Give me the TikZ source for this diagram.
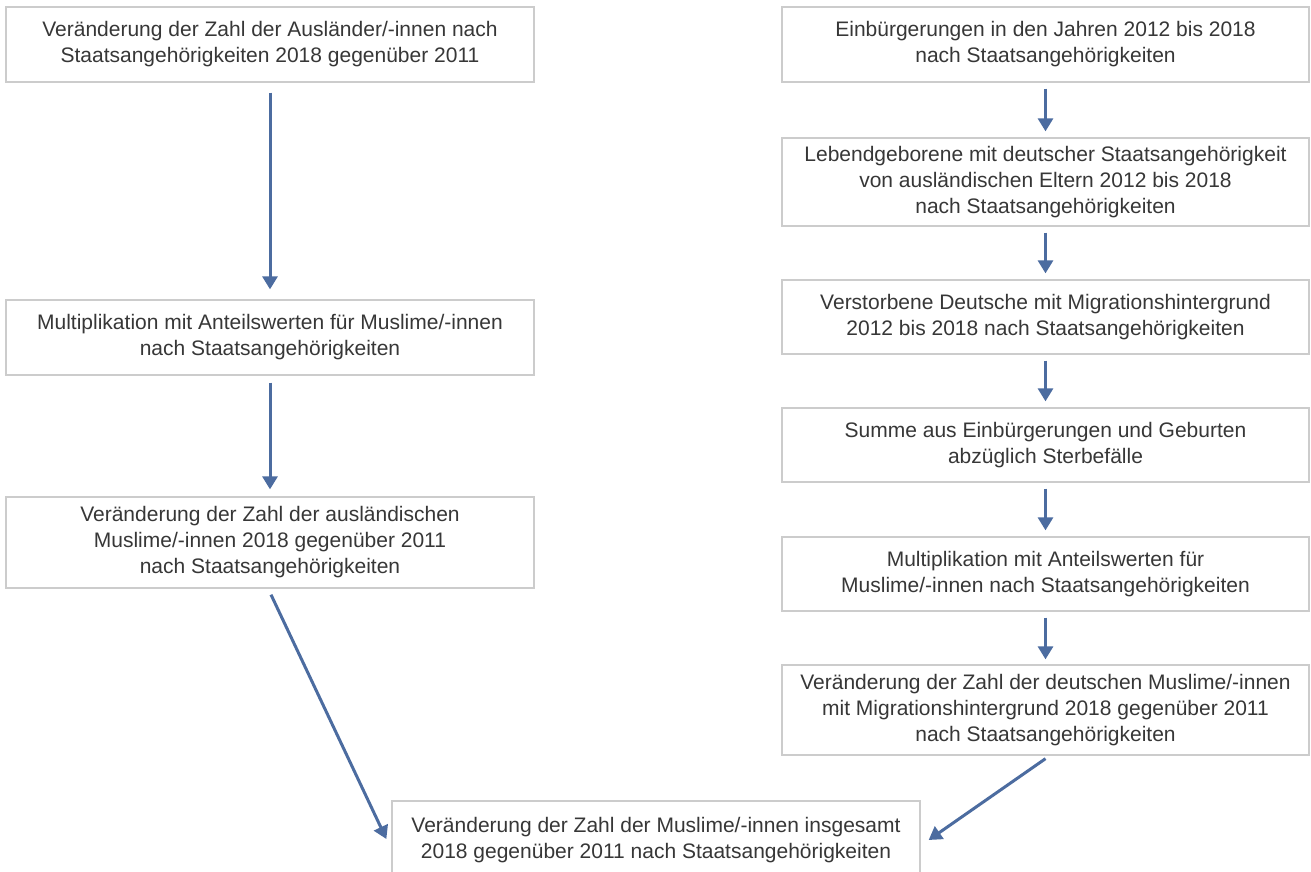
\documentclass[tikz,border=0pt]{standalone}
\usepackage{fontspec}
\setmainfont{Liberation Sans}
\usetikzlibrary{arrows.meta,calc}
\definecolor{boxline}{RGB}{204,204,204}
\definecolor{arrowblue}{RGB}{76,108,160}
\definecolor{txt}{RGB}{55,55,55}
\begin{document}
\begin{tikzpicture}[x=1pt,y=-1pt,
  box/.style={draw=boxline, line width=1.3pt, fill=white, inner sep=0pt, align=center,
    text=txt, font=\fontsize{21}{26}\selectfont},
  lbox/.style={box, minimum width=528pt},
  rbox/.style={box, minimum width=527pt},
  flow/.style={draw=arrowblue, line width=3pt, -{Triangle[width=15pt,length=13pt]}}]
\useasboundingbox[fill=white] (0,0) rectangle (1311,872);

% left column
\node[lbox, minimum height=75pt] (A) at (270,44.5)
  {Veränderung der Zahl der Ausländer/-innen nach\\Staatsangehörigkeiten 2018 gegenüber 2011};
\node[lbox, minimum height=75pt] (B) at (270,337.5)
  {Multiplikation mit Anteilswerten für Muslime/-innen\\nach Staatsangehörigkeiten};
\node[lbox, minimum height=91pt] (C) at (270,542.5)
  {Veränderung der Zahl der ausländischen\\Muslime/-innen 2018 gegenüber 2011\\nach Staatsangehörigkeiten};

% right column
\node[rbox, minimum height=75pt] (R1) at (1045.5,44.5)
  {Einbürgerungen in den Jahren 2012 bis 2018\\nach Staatsangehörigkeiten};
\node[rbox, minimum height=88pt] (R2) at (1045.5,182)
  {Lebendgeborene mit deutscher Staatsangehörigkeit\\von ausländischen Eltern 2012 bis 2018\\nach Staatsangehörigkeiten};
\node[rbox, minimum height=74pt] (R3) at (1045.5,317)
  {Verstorbene Deutsche mit Migrationshintergrund\\2012 bis 2018 nach Staatsangehörigkeiten};
\node[rbox, minimum height=74pt] (R4) at (1045.5,445)
  {Summe aus Einbürgerungen und Geburten\\abzüglich Sterbefälle};
\node[rbox, minimum height=74pt] (R5) at (1045.5,574)
  {Multiplikation mit Anteilswerten für\\Muslime/-innen nach Staatsangehörigkeiten};
\node[rbox, minimum height=90pt] (R6) at (1045.5,710)
  {Veränderung der Zahl der deutschen Muslime/-innen\\mit Migrationshintergrund 2018 gegenüber 2011\\nach Staatsangehörigkeiten};

% bottom
\node[lbox, minimum height=78pt] (D) at (656,840)
  {Veränderung der Zahl der Muslime/-innen insgesamt\\2018 gegenüber 2011 nach Staatsangehörigkeiten};

% connectors
\draw[flow] ($(A.south)+(0,10)$) -- ($(B.north)+(0,-10)$);
\draw[flow] ($(B.south)+(0,7)$) -- ($(C.north)+(0,-7)$);
\draw[flow] ($(C.south)+(1,6)$) -- ($(D.west)+(-5,-1)$);

\draw[flow] ($(R1.south)+(0,6)$) -- ($(R2.north)+(0,-6)$);
\draw[flow] ($(R2.south)+(0,6)$) -- ($(R3.north)+(0,-6)$);
\draw[flow] ($(R3.south)+(0,6)$) -- ($(R4.north)+(0,-6)$);
\draw[flow] ($(R4.south)+(0,6)$) -- ($(R5.north)+(0,-6)$);
\draw[flow] ($(R5.south)+(0,6)$) -- ($(R6.north)+(0,-5)$);
\draw[flow] ($(R6.south)+(0,3)$) -- ($(D.east)+(8,0)$);
\end{tikzpicture}
\end{document}
